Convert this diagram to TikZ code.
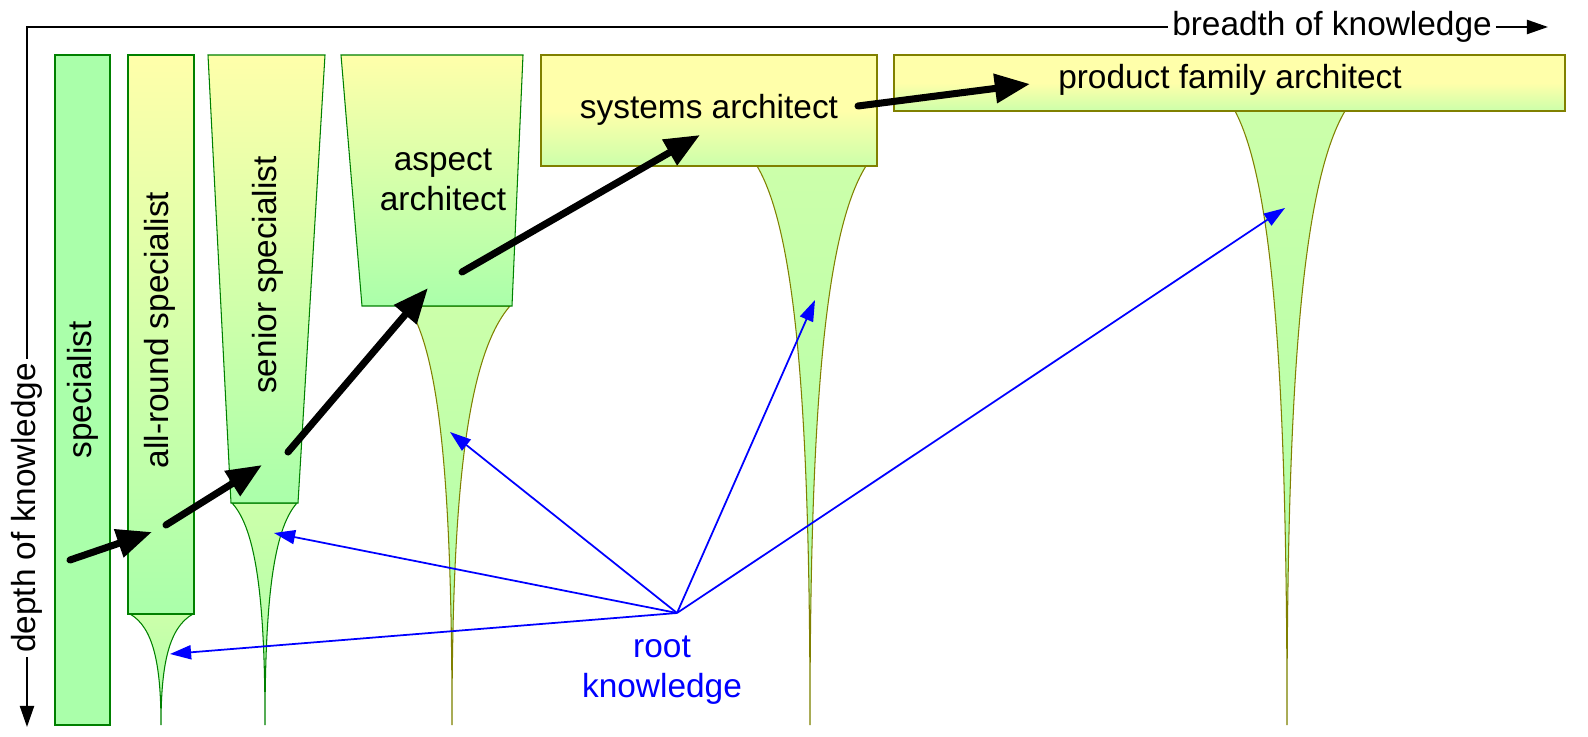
\documentclass[tikz,border=0pt]{standalone}
\usepackage{fontspec}
\setmainfont{Liberation Sans}
\usetikzlibrary{arrows.meta,positioning}
\definecolor{pale}{HTML}{FFFFAA}
\definecolor{leaf}{HTML}{AAFFAA}
\definecolor{lime}{HTML}{CCFFAA}
\definecolor{olive}{HTML}{808000}
\tikzset{
  role/.style={font=\fontsize{9.5}{11.5}\selectfont, align=center},
  career/.style={line width=2pt, line cap=round, -{Triangle[length=10pt,width=8pt]}},
  root/.style={blue, line width=0.5pt, -{Triangle[length=6pt,width=4pt]}},
  axis/.style={line width=0.6pt, -{Triangle[length=6pt,width=4pt]}}
}
% tail below a box: left x, right x, top y, tip x
\newcommand{\tailshape}[5]{%
  \shade[draw=#5, line width=0.3pt, top color=lime, bottom color=leaf]
    (#1,#3) .. controls ({#1+0.75*(#4-#1)},{#3+0.12*(725-#3)}) and (#4,{#3+0.45*(725-#3)}) .. (#4,725)
    .. controls (#4,{#3+0.45*(725-#3)}) and ({#2-0.75*(#2-#4)},{#3+0.12*(725-#3)}) .. (#2,#3) -- cycle;}
\begin{document}
\begin{tikzpicture}[x=0.01cm, y=-0.01cm]
  \useasboundingbox (0,0) rectangle (1588,737);

  % axes
  \node[role, fill=white, inner sep=1pt] (breadth) at (1332,27) {breadth of knowledge};
  \node[role, fill=white, inner sep=1pt, rotate=90] (depth) at (27,508) {depth of knowledge};
  \coordinate (corner) at (27,27);
  \coordinate (xend) at (1548,27);
  \coordinate (yend) at (27,727);
  \draw[line width=0.6pt] (depth.east) |- (breadth.west);
  \draw[axis] (breadth.east) -- (xend);
  \draw[axis] (depth.west) -- (yend);

  % tails
  \tailshape{130}{193}{614}{161}{green!50!black}
  \tailshape{232}{297}{503}{265}{green!50!black}
  \tailshape{408}{510}{306}{452}{olive}
  \tailshape{757}{866}{166}{810}{olive}
  \tailshape{1235}{1345}{111}{1287}{olive}

  % boxes
  \fill[leaf, draw=green!50!black, line width=0.3pt] (55,55) rectangle (110,725);
  \shade[top color=pale, bottom color=leaf, draw=green!50!black, line width=0.3pt] (128,55) rectangle (194,614);
  \shade[top color=pale, bottom color=leaf, draw=green!50!black, line width=0.3pt] (208,55) -- (325,55) -- (298,503) -- (231,503) -- cycle;
  \shade[top color=pale, bottom color=leaf, draw=green!50!black, line width=0.3pt] (341,55) -- (523,55) -- (512,306) -- (362,306) -- cycle;
  \shade[top color=pale, bottom color=lime, middle color=pale, draw=olive, line width=0.3pt] (541,55) rectangle (877,166);
  \shade[top color=pale, bottom color=lime, middle color=pale, draw=olive, line width=0.3pt] (894,55) rectangle (1565,111);

  % labels
  \node[role, rotate=90] (spec) at (83,390) {specialist};
  \node[role, rotate=90] (allround) at (160,330) {all-round specialist};
  \node[role, rotate=90] (senior) at (268,275) {senior specialist};
  \node[role] (aspect) at (443,180) {aspect\\architect};
  \node[role] (systems) at (709,110) {systems architect};
  \node[role] (product) at (1230,80) {product family architect};
  \node[role, blue] (rootlbl) at (662,670) {root\\knowledge};

  % career steps
  \coordinate (s1) at (70,560);   \coordinate (e1) at (152,532);
  \coordinate (s2) at (166,525);  \coordinate (e2) at (262,465);
  \coordinate (s3) at (288,452);  \coordinate (e3) at (428,288);
  \coordinate (s4) at (462,272);  \coordinate (e4) at (700,135);
  \coordinate (s5) at (858,106);  \coordinate (e5) at (1030,84);
  \foreach \i in {1,...,5}
    \draw[career] (s\i) -- (e\i);

  % root knowledge
  \coordinate (rk) at (677,613);
  \coordinate (r1) at (170,654);
  \coordinate (r2) at (274,533);
  \coordinate (r3) at (450,432);
  \coordinate (r4) at (815,300);
  \coordinate (r5) at (1285,208);
  \foreach \i in {1,...,5}
    \draw[root] (rk) -- (r\i);
\end{tikzpicture}
\end{document}
